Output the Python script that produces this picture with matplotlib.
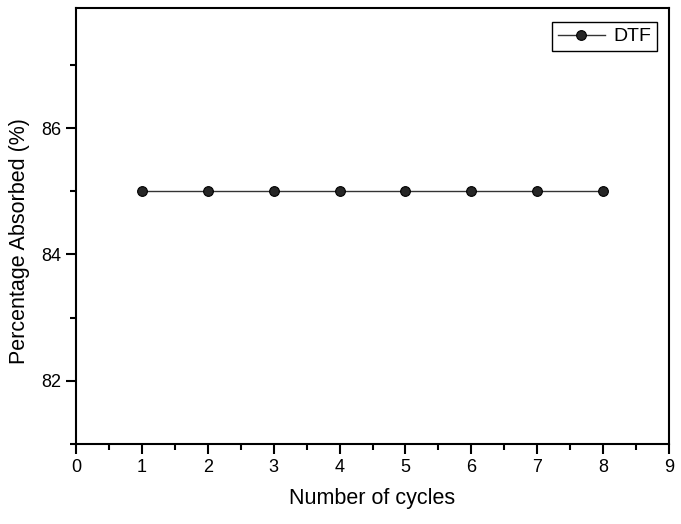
import numpy as np
import matplotlib.pyplot as plt
from matplotlib.ticker import MultipleLocator

plt.rcParams['font.family'] = ['Liberation Sans', 'DejaVu Sans']

cycles = [1, 2, 3, 4, 5, 6, 7, 8]
absorbed = [85, 85, 85, 85, 85, 85, 85, 85]

fig = plt.figure(figsize=(6.81, 5.24), dpi=100)
ax = fig.add_axes([76 / 681, 1 - 444 / 524, 593 / 681, 436 / 524])

ax.plot(cycles, absorbed, color='#333333', lw=1.0, marker='o', ms=7,
        mfc='#262626', mec='#000000', mew=0.8, label='DTF')

ax.set_xlim(0, 9)
ax.set_ylim(81, 87.9)
ax.xaxis.set_major_locator(MultipleLocator(1))
ax.xaxis.set_minor_locator(MultipleLocator(0.5))
ax.yaxis.set_major_locator(MultipleLocator(2))
ax.yaxis.set_minor_locator(MultipleLocator(1))
ax.tick_params(which='both', direction='out', width=1.5, labelsize=13,
               top=False, right=False)
ax.tick_params(which='major', length=7)
ax.tick_params(which='minor', length=4)
for s in ax.spines.values():
    s.set_linewidth(1.5)

ax.set_xlabel('Number of cycles', fontsize=15.5, labelpad=9)
ax.set_ylabel('Percentage Absorbed (%)', fontsize=15.5)
ax.yaxis.set_label_coords(-0.077, 0.466)

leg = ax.legend(loc='upper right', fontsize=14, fancybox=False, framealpha=1,
                edgecolor='black', handlelength=2.4, borderpad=0.3,
                handletextpad=0.45, borderaxespad=0,
                bbox_to_anchor=(0.98, 0.968))
leg.get_frame().set_linewidth(1.0)

fig.savefig('out.png', dpi=100)
